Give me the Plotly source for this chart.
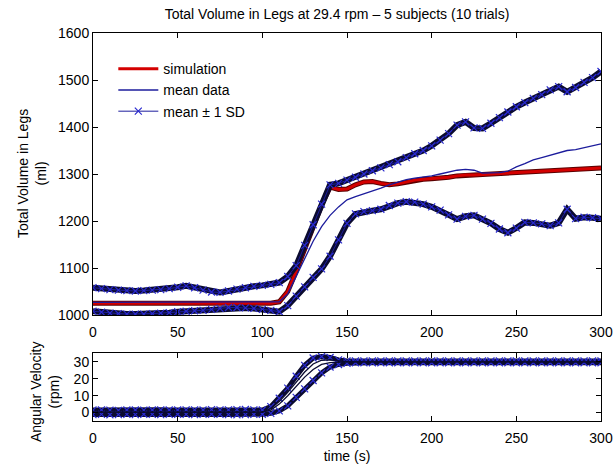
import plotly.graph_objects as go

# time axis (s), 5 s steps
t = [i * 5 for i in range(61)]

# ---- Total volume in legs (ml) ----
sim_vol = [1025] * 22 + [1028, 1050, 1093, 1140, 1188, 1234, 1272, 1267, 1268, 1277,
           1283, 1284, 1280, 1277, 1279, 1283, 1287, 1289, 1290, 1291,
           1293, 1296, 1298, 1298, 1299, 1300, 1301, 1302, 1303, 1304,
           1305, 1306, 1307, 1308, 1309, 1310, 1311, 1312, 1313]

mean_vol = [1027] * 22 + [1028, 1045, 1083, 1120, 1157, 1188, 1212, 1230, 1245, 1252,
            1258, 1263, 1270, 1277, 1283, 1288, 1291, 1293, 1296, 1300,
            1304, 1308, 1310, 1308, 1302, 1302, 1303, 1306, 1315, 1322,
            1330, 1335, 1340, 1345, 1350, 1352, 1356, 1360, 1364]

upper_vol = [1058, 1056, 1054, 1053, 1052, 1051, 1052, 1053, 1054, 1056,
             1059, 1062, 1058, 1053, 1049, 1048, 1051, 1055, 1058, 1061,
             1063, 1065, 1069, 1082, 1105, 1148, 1192, 1236, 1277, 1280,
             1287, 1293, 1300, 1307, 1313, 1320, 1326, 1335, 1343, 1350,
             1360, 1372, 1386, 1404, 1411, 1398, 1397, 1408, 1420, 1432,
             1443, 1452, 1461, 1469, 1479, 1486, 1475, 1484, 1495, 1505, 1518]

lower_vol = [1008, 1006, 1004, 1003, 1002, 1002, 1002, 1003, 1004, 1005,
             1007, 1008, 1009, 1010, 1012, 1014, 1016, 1016, 1015, 1014,
             1012, 1010, 1007, 1020, 1040, 1060, 1080, 1098, 1125, 1160,
             1195, 1215, 1220, 1222, 1225, 1233, 1238, 1241, 1240, 1236,
             1230, 1223, 1213, 1204, 1210, 1212, 1204, 1195, 1183, 1175,
             1185, 1197, 1196, 1194, 1190, 1196, 1225, 1205, 1208, 1207, 1205]

# ---- Angular velocity (rpm) ----
av_upper = [1.5, 1.6, 1.4, 1.3, 1.5, 1.5, 1.4, 1.5, 1.6, 1.5, 1.5, 1.6, 1.6, 1.5,
            1.7, 1.6, 1.6, 1.7, 1.8, 1.6, 1.5, 3.5, 8.5, 14.5, 21.5, 28, 32.3,
            33.2, 32.6, 31.2, 30.6] + [30.6] * 30
av_sim = [0.2] * 21 + [2.5, 6.5, 12, 18, 24, 28.8, 31, 31.2, 30.5, 30.1] + [30] * 30
av_mean = [0.2] * 21 + [1.5, 5, 10, 15.5, 21, 25.5, 28.5, 29.6, 30, 30] + [30] * 30
av_lower = [-1.2, -1.1, -1.3, -1.2, -1.1, -1.2, -1.0, -1.1, -1.2, -1.1, -1.0,
            -1.1, -1.2, -1.1, -1.0, -1.1, -1.2, -1.3, -1.2, -1.1, -1.0,
            -0.5, 1, 4, 9, 14, 19, 23.5, 27, 28.5, 29.2] + [29.5] * 30

x_ticks = [0, 50, 100, 150, 200, 250, 300]
vol_ticks = [1000, 1100, 1200, 1300, 1400, 1500, 1600]
av_ticks = [0, 10, 20, 30]

FONT = "Liberation Sans"
RED = "#d40000"
DARKRED = "#5a0000"
NAVY = "#1c1c9c"
BAND = "#0b0b30"
MARK = "#2a2ad0"

fig = go.Figure()

# simulation (thick red with dark edge)
fig.add_trace(go.Scatter(x=t, y=sim_vol, mode="lines", line=dict(color=DARKRED, width=5),
                         showlegend=False, hoverinfo="skip", xaxis="x", yaxis="y"))
fig.add_trace(go.Scatter(x=t, y=sim_vol, mode="lines", name="simulation",
                         line=dict(color=RED, width=3), xaxis="x", yaxis="y"))
# mean data
fig.add_trace(go.Scatter(x=t, y=mean_vol, mode="lines", name="mean data",
                         line=dict(color=NAVY, width=1.3), xaxis="x", yaxis="y"))
# mean +/- SD
for i, arr in enumerate([upper_vol, lower_vol]):
    fig.add_trace(go.Scatter(x=t, y=arr, mode="lines", line=dict(color=BAND, width=6),
                             showlegend=False, hoverinfo="skip", xaxis="x", yaxis="y"))
    fig.add_trace(go.Scatter(x=t, y=arr, mode="lines+markers", name="mean \u00b1 1 SD",
                             legendgroup="sd", showlegend=(i == 0),
                             line=dict(color=NAVY, width=1),
                             marker=dict(symbol="x-thin", size=7,
                                         line=dict(color=MARK, width=1.2)),
                             xaxis="x", yaxis="y"))

# angular velocity panel
for arr in [av_upper, av_lower]:
    fig.add_trace(go.Scatter(x=t, y=arr, mode="lines", line=dict(color=BAND, width=5),
                             showlegend=False, hoverinfo="skip", xaxis="x2", yaxis="y2"))
    fig.add_trace(go.Scatter(x=t, y=arr, mode="markers", showlegend=False,
                             marker=dict(symbol="x-thin", size=7,
                                         line=dict(color=MARK, width=1.2)),
                             xaxis="x2", yaxis="y2"))
for arr in [av_sim, av_mean]:
    fig.add_trace(go.Scatter(x=t, y=arr, mode="lines", showlegend=False,
                             line=dict(color=BAND, width=1.3), xaxis="x2", yaxis="y2"))

axis_common = dict(showline=True, linecolor="black", linewidth=1, mirror="ticks",
                   ticks="inside", ticklen=5, tickcolor="black", showgrid=False,
                   zeroline=False, automargin=False,
                   tickfont=dict(family=FONT, size=14, color="black"))

fig.update_layout(
    width=615, height=468,
    margin=dict(l=93, r=14, t=33, b=47),
    paper_bgcolor="white", plot_bgcolor="white",
    font=dict(family=FONT, color="black"),
    title=dict(text="Total Volume in Legs at 29.4 rpm \u2013 5 subjects (10 trials)",
               x=337 / 615, xanchor="center", y=1 - 14 / 468, yanchor="middle",
               font=dict(family=FONT, size=14, color="black")),
    xaxis=dict(range=[0, 300], tickvals=x_ticks, anchor="y", domain=[0, 1],
               ticklabelstandoff=4, **axis_common),
    yaxis=dict(range=[1000, 1600], tickvals=vol_ticks, domain=[0.2732, 1], anchor="x",
               **axis_common),
    xaxis2=dict(range=[0, 300], tickvals=x_ticks, anchor="y2", domain=[0, 1],
                ticklabelstandoff=4,
                title=dict(text="time (s)", font=dict(family=FONT, size=14), standoff=6),
                **axis_common),
    yaxis2=dict(range=[-5, 35.3], tickvals=av_ticks, domain=[0, 0.1753], anchor="x2",
                **axis_common),
    legend=dict(x=0.04, y=0.948, xanchor="left", yanchor="top", bgcolor="rgba(0,0,0,0)",
                font=dict(family=FONT, size=14, color="black"), tracegroupgap=0,
                itemwidth=40),
    annotations=[
        dict(text="Total Volume in Legs<br>(ml)", textangle=-90, xref="paper", yref="paper",
             x=(32 - 93) / 508, y=(421 - 174) / 388, xanchor="center", yanchor="middle",
             showarrow=False, font=dict(family=FONT, size=14, color="black")),
        dict(text="Angular Velocity<br>(rpm)", textangle=-90, xref="paper", yref="paper",
             x=(45 - 93) / 508, y=(421 - 392) / 388, xanchor="center", yanchor="middle",
             showarrow=False, font=dict(family=FONT, size=14, color="black")),
    ],
)

fig.write_html("out.html")
